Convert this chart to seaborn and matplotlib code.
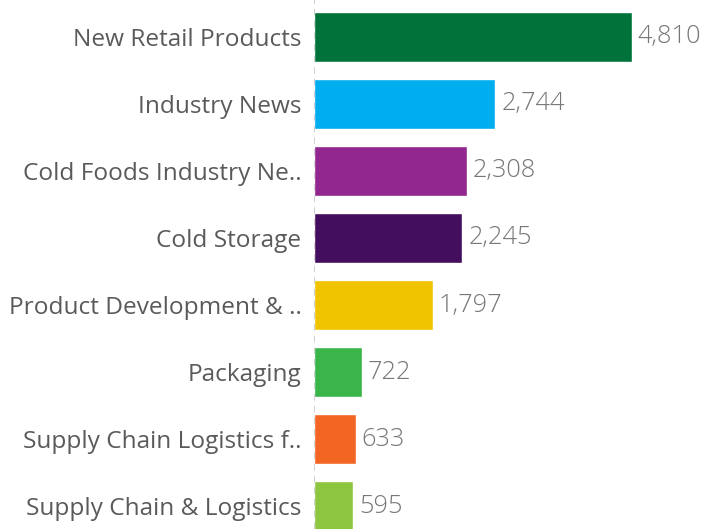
import matplotlib
matplotlib.use("Agg")
import matplotlib.pyplot as plt
import seaborn as sns
import pandas as pd

categories = ["New Retail Products", "Industry News", "Cold Foods Industry Ne..",
              "Cold Storage", "Product Development & ..", "Packaging",
              "Supply Chain Logistics f..", "Supply Chain & Logistics"]
values = [4810, 2744, 2308, 2245, 1797, 722, 633, 595]
colors = ["#00733A", "#00AEEF", "#92278F", "#440E5E", "#F1C400", "#39B54A", "#F26522", "#8DC63F"]

sns.set_style("white")
plt.rcParams['font.family'] = ['Open Sans', 'DejaVu Sans']

df = pd.DataFrame({"cat": categories, "val": values})
fig = plt.figure(figsize=(7.23, 5.29), dpi=100)
ax = fig.add_axes([314/723, 0, 409/723, 1])
sns.barplot(data=df, y="cat", x="val", hue="cat", palette=colors, legend=False,
            width=0.75, ax=ax, saturation=1)
ax.set_xlim(0, 409/0.0661)
ax.set_ylim(7.343, -0.552)
for s in ax.spines.values():
    s.set_visible(False)
ax.axvline(0, color="#c8c8c8", ls=(0, (4, 3)), lw=1.2)
ax.set_xticks([])
ax.set_xlabel("")
ax.tick_params(axis="y", length=0, pad=9, labelsize=17.6, labelcolor="#5a5a5a")
ax.set_ylabel("")
for i, v in enumerate(values):
    ax.text(v + 90, i, f"{v:,}", va="center", ha="left", fontsize=18.3,
            fontweight="light", color="#777777")
fig.savefig("out.png", dpi=100)
